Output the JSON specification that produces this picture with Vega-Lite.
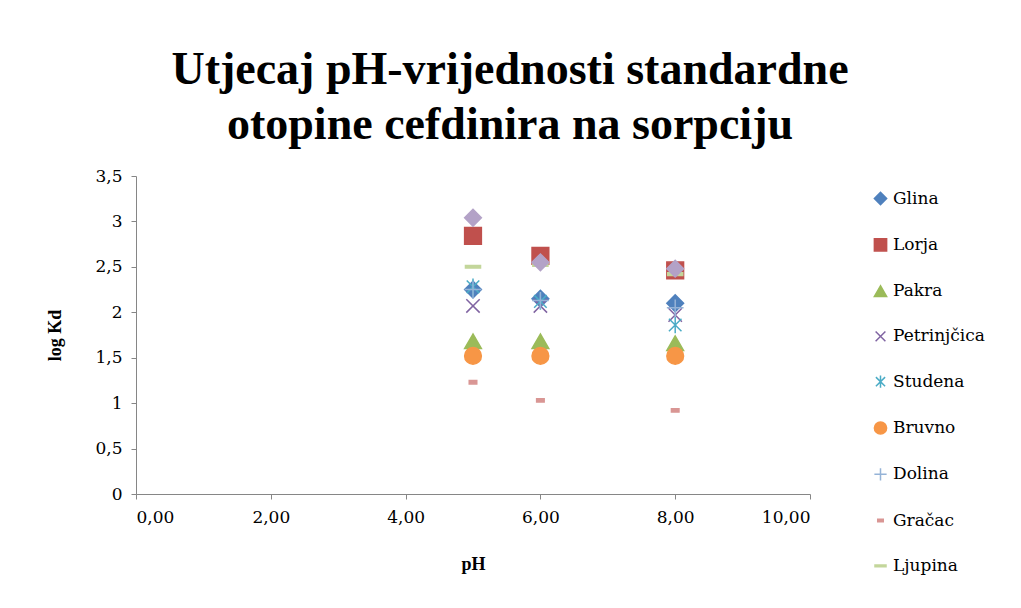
{
  "$schema": "https://vega.github.io/schema/vega-lite/v6.json",
  "autosize": {"type": "none"},
  "width": 674,
  "height": 318,
  "padding": {"left": 136, "top": 176, "right": 211, "bottom": 114},
  "background": "white",
  "title": {
    "text": ["Utjecaj pH-vrijednosti standardne", "otopine cefdinira na sorpciju"],
    "font": "Liberation Serif",
    "fontSize": 46,
    "fontWeight": "bold",
    "lineHeight": 55,
    "color": "black",
    "anchor": "middle",
    "dx": 37,
    "offset": 18
  },
  "config": {
    "view": {"stroke": null},
    "axis": {
      "titleFont": "Liberation Serif",
      "titleFontSize": 18,
      "titleFontWeight": "bold",
      "titleColor": "black",
      "domainColor": "#868686",
      "tickColor": "#868686",
      "tickSize": 5,
      "grid": false
    }
  },
  "datasets": {
    "main": [
      {"series": "Glina", "pH": 5, "logKd": 2.25},
      {"series": "Glina", "pH": 6, "logKd": 2.15},
      {"series": "Glina", "pH": 8, "logKd": 2.1},
      {"series": "Lorja", "pH": 5, "logKd": 2.84},
      {"series": "Lorja", "pH": 6, "logKd": 2.62},
      {"series": "Lorja", "pH": 8, "logKd": 2.46},
      {"series": "Pakra", "pH": 5, "logKd": 1.68},
      {"series": "Pakra", "pH": 6, "logKd": 1.68},
      {"series": "Pakra", "pH": 8, "logKd": 1.66},
      {"series": "Petrinjčica", "pH": 5, "logKd": 2.07},
      {"series": "Petrinjčica", "pH": 6, "logKd": 2.07},
      {"series": "Petrinjčica", "pH": 8, "logKd": 1.97},
      {"series": "Studena", "pH": 5, "logKd": 2.28},
      {"series": "Studena", "pH": 6, "logKd": 2.12},
      {"series": "Studena", "pH": 8, "logKd": 1.86},
      {"series": "Bruvno", "pH": 5, "logKd": 1.52},
      {"series": "Bruvno", "pH": 6, "logKd": 1.52},
      {"series": "Bruvno", "pH": 8, "logKd": 1.52},
      {"series": "Dolina", "pH": 5, "logKd": 2.25},
      {"series": "Dolina", "pH": 6, "logKd": 2.13},
      {"series": "Dolina", "pH": 8, "logKd": 2.05},
      {"series": "Gračac", "pH": 5, "logKd": 1.23},
      {"series": "Gračac", "pH": 6, "logKd": 1.03},
      {"series": "Gračac", "pH": 8, "logKd": 0.92},
      {"series": "Ljupina", "pH": 5, "logKd": 2.5},
      {"series": "Ljupina", "pH": 6, "logKd": 2.52},
      {"series": "Ljupina", "pH": 8, "logKd": 2.42}
    ],
    "extra": [
      {"series": "Niz 10", "pH": 5, "logKd": 3.04},
      {"series": "Niz 10", "pH": 6, "logKd": 2.55},
      {"series": "Niz 10", "pH": 8, "logKd": 2.48}
    ]
  },
  "layer": [
    {
      "data": {"name": "main"},
      "mark": {"type": "point", "filled": true, "size": 280, "strokeWidth": 1.5, "opacity": 1},
      "encoding": {
        "x": {
          "field": "pH", "type": "quantitative",
          "scale": {"domain": [0, 10]},
          "axis": {"values": [0, 2, 4, 6, 8, 10], "title": "pH", "labelPadding": 10, "titlePadding": 30,
                   "labelFont": "DejaVu Serif", "labelFontSize": 17, "labelColor": "black",
                   "labelExpr": "replace(format(datum.value, '.2f'), '.', ',')"}
        },
        "y": {
          "field": "logKd", "type": "quantitative",
          "scale": {"domain": [0, 3.5]},
          "axis": {"values": [0, 0.5, 1, 1.5, 2, 2.5, 3, 3.5], "title": "log Kd", "labelPadding": 9, "titlePadding": 30,
                   "labelFont": "DejaVu Serif", "labelFontSize": 17, "labelColor": "black",
                   "labelExpr": "replace(format(datum.value, '.1~f'), '.', ',')"}
        },
        "fill": {
          "field": "series", "type": "nominal",
          "scale": {
            "domain": ["Glina", "Lorja", "Pakra", "Petrinjčica", "Studena", "Bruvno", "Dolina", "Gračac", "Ljupina"],
            "range": ["#4F81BD", "#C0504D", "#9BBB59", "#8064A2", "#4BACC6", "#F79646", "#95B3D7", "#D99694", "#C3D69B"]
          },
          "legend": {
            "title": null, "orient": "none", "legendX": 736, "legendY": 14,
            "labelFont": "DejaVu Serif", "labelFontSize": 17, "labelColor": "black",
            "symbolSize": 150, "symbolStrokeWidth": 1.5, "rowPadding": 27.3, "labelOffset": 4, "padding": 0
          }
        },
        "stroke": {
          "field": "series", "type": "nominal",
          "scale": {
            "domain": ["Glina", "Lorja", "Pakra", "Petrinjčica", "Studena", "Bruvno", "Dolina", "Gračac", "Ljupina"],
            "range": ["#4F81BD", "#C0504D", "#9BBB59", "#8064A2", "#4BACC6", "#F79646", "#95B3D7", "#D99694", "#C3D69B"]
          },
          "legend": {
            "title": null, "orient": "none", "legendX": 736, "legendY": 14,
            "labelFont": "DejaVu Serif", "labelFontSize": 17, "labelColor": "black",
            "symbolSize": 150, "symbolStrokeWidth": 1.5, "rowPadding": 27.3, "labelOffset": 4, "padding": 0
          }
        },
        "shape": {
          "field": "series", "type": "nominal",
          "scale": {
            "domain": ["Glina", "Lorja", "Pakra", "Petrinjčica", "Studena", "Bruvno", "Dolina", "Gračac", "Ljupina"],
            "range": [
              "diamond", "square", "triangle-up",
              "M-0.8,-0.8L0.8,0.8M0.8,-0.8L-0.8,0.8",
              "M-0.75,-0.75L0.75,0.75M0.75,-0.75L-0.75,0.75M0,-1L0,1",
              "circle",
              "M-1,0L1,0M0,-1L0,1",
              "M-0.45,-0.2L0.45,-0.2L0.45,0.2L-0.45,0.2Z",
              "M-0.9,-0.15L0.9,-0.15L0.9,0.15L-0.9,0.15Z"
            ]
          },
          "legend": {
            "title": null, "orient": "none", "legendX": 736, "legendY": 14,
            "labelFont": "DejaVu Serif", "labelFontSize": 17, "labelColor": "black",
            "symbolSize": 150, "symbolStrokeWidth": 1.5, "rowPadding": 27.3, "labelOffset": 4, "padding": 0
          }
        }
      }
    },
    {
      "data": {"name": "extra"},
      "mark": {"type": "point", "filled": true, "size": 280, "shape": "diamond", "color": "#B3A2C7", "stroke": "#B3A2C7", "strokeWidth": 1.5, "opacity": 1},
      "encoding": {
        "x": {"field": "pH", "type": "quantitative"},
        "y": {"field": "logKd", "type": "quantitative"}
      }
    }
  ]
}
